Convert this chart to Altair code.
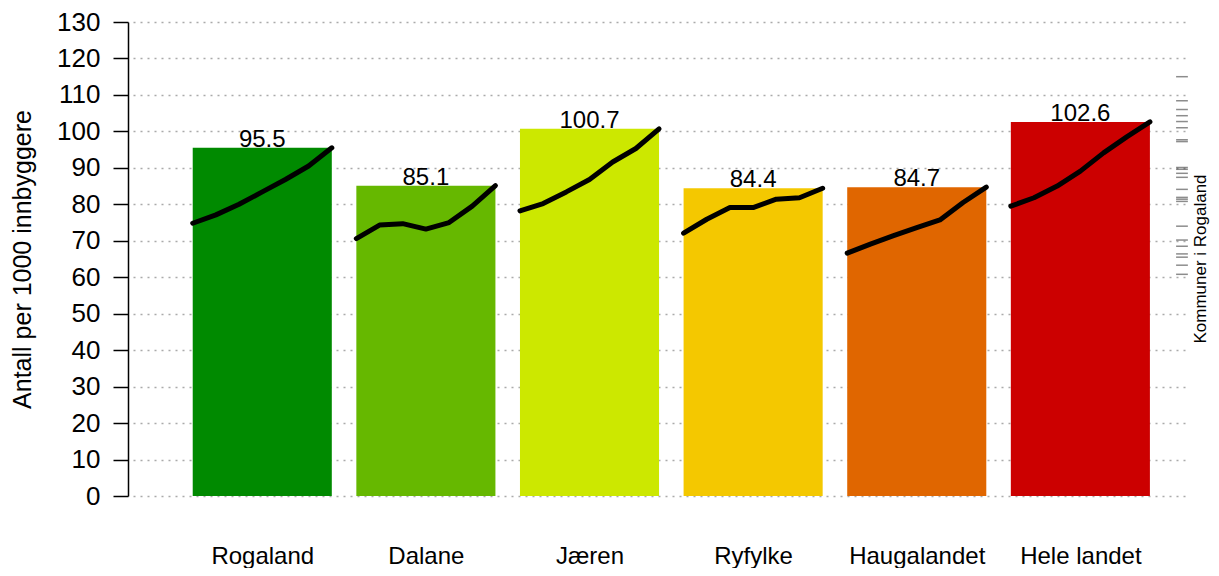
import altair as alt
import pandas as pd

# ---- data ----
regions = ["Rogaland", "Dalane", "Jæren", "Ryfylke", "Haugalandet", "Hele landet"]
latest = [95.5, 85.1, 100.7, 84.4, 84.7, 102.6]
colors = ["#008a00", "#66b800", "#cce800", "#f4c800", "#e06600", "#cc0000"]

trend_rogaland = [74.8, 77.1, 80.0, 83.4, 86.8, 90.5, 95.5]
trend_dalane = [70.6, 74.3, 74.7, 73.2, 75.0, 79.5, 85.1]
trend_jaeren = [78.2, 80.2, 83.4, 86.8, 91.6, 95.3, 100.7]
trend_ryfylke = [72.1, 75.9, 79.1, 79.1, 81.4, 81.8, 84.4]
trend_haugalandet = [66.6, 69.1, 71.4, 73.6, 75.7, 80.5, 84.7]
trend_landet = [79.5, 81.8, 85.0, 89.1, 94.1, 98.5, 102.6]

kommuner = [115.0, 108.4, 106.0, 104.3, 102.7, 101.0, 97.7, 97.2, 90.1, 89.6,
            88.5, 87.4, 84.1, 81.9, 81.4, 80.8, 74.0, 70.2, 68.5, 66.4, 65.5,
            63.3, 60.8]

y_ticks = list(range(0, 131, 10))
y_title = "Antall per 1000 innbyggere"
rug_title = "Kommuner i Rogaland"

# ---- layout helpers (slot units: one slot per region) ----
BAR_W = 0.85
X_MIN, X_MAX = -0.79, 5.67
RUG_L, RUG_R = 5.585, 5.657
RUG_TEXT_X = 5.74
FONT = "Liberation Sans"

trends = [trend_rogaland, trend_dalane, trend_jaeren, trend_ryfylke,
          trend_haugalandet, trend_landet]

bars = pd.DataFrame({
    "region": regions,
    "value": latest,
    "pos": list(range(len(regions))),
})
bars["x0"] = bars["pos"] - BAR_W / 2
bars["x1"] = bars["pos"] + BAR_W / 2
bars["label"] = [f"{v:.1f}" for v in latest]

rows = []
for i, (r, t) in enumerate(zip(regions, trends)):
    n = len(t)
    for k, v in enumerate(t):
        rows.append({"region": r, "k": k,
                     "x": i - BAR_W / 2 + k * BAR_W / (n - 1), "value": v})
lines = pd.DataFrame(rows)

rug = pd.DataFrame({"value": kommuner})
rug["x0"] = RUG_L
rug["x1"] = RUG_R

rug_lab = pd.DataFrame({"text": [rug_title], "x": [RUG_TEXT_X], "y": [65.0]})

xscale = alt.Scale(domain=[X_MIN, X_MAX], nice=False, zero=False)
yscale = alt.Scale(domain=[0, 130], nice=False, zero=True)

label_expr = "[" + ",".join(f"'{r}'" for r in regions) + "][datum.value]"

x_axis = alt.Axis(values=list(range(len(regions))), labelExpr=label_expr,
                  domain=False, ticks=False, grid=False, labelPadding=67,
                  labelBaseline="alphabetic",
                  labelFontSize=24, labelFont=FONT, labelColor="black",
                  labelOverlap=False, labelFlush=False, title=None)
y_axis = alt.Axis(values=y_ticks, tickSize=15, tickColor="black", tickWidth=1.5,
                  domainColor="black", domainWidth=1.5, labelFontSize=26,
                  labelFont=FONT, labelColor="black", labelPadding=13,
                  labelOverlap=False, labelBound=False, labelFlush=False,
                  grid=True, gridDash=[2, 5], gridColor="#aaaaaa", gridWidth=1.5,
                  offset=5, title=y_title, titleFont=FONT, titleFontSize=25,
                  titleFontWeight="normal", titleColor="black", titleX=-106,
                  titleAngle=270, titleBaseline="middle")

X = lambda f: alt.X(f, scale=xscale, axis=x_axis)
Y = lambda f: alt.Y(f, scale=yscale, axis=y_axis)

color = alt.Color("region:N", scale=alt.Scale(domain=regions, range=colors),
                  legend=None)

bar_layer = alt.Chart(bars).mark_rect().encode(
    x=X("x0:Q"),
    x2="x1:Q",
    y=Y("value:Q"),
    y2=alt.datum(0),
    color=color,
)

text_layer = alt.Chart(bars).mark_text(
    baseline="alphabetic", dy=-1, fontSize=24, font=FONT, color="black"
).encode(x=X("pos:Q"), y=Y("value:Q"), text="label:N")

line_layer = alt.Chart(lines).mark_line(
    color="black", strokeWidth=5, strokeJoin="round", strokeCap="round"
).encode(x=X("x:Q"), y=Y("value:Q"), detail="region:N", order="k:Q")

rug_layer = alt.Chart(rug).mark_rule(color="#000000", opacity=0.45,
                                     strokeWidth=1.5).encode(
    x=X("x0:Q"), x2="x1:Q", y=Y("value:Q"))

rug_text = alt.Chart(rug_lab).mark_text(
    angle=270, fontSize=17, font=FONT, color="black", baseline="middle"
).encode(x=X("x:Q"), y=Y("y:Q"), text="text:N")

chart = alt.layer(bar_layer, line_layer, text_layer, rug_layer, rug_text).properties(
    width=1057, height=474,
    padding={"left": 125, "top": 14, "right": 21, "bottom": 72},
    autosize=alt.AutoSizeParams(type="none"),
).configure(background="white", view=alt.ViewConfig(stroke=None))

chart.save("out.html", embed_options={"renderer": "svg", "actions": False})
